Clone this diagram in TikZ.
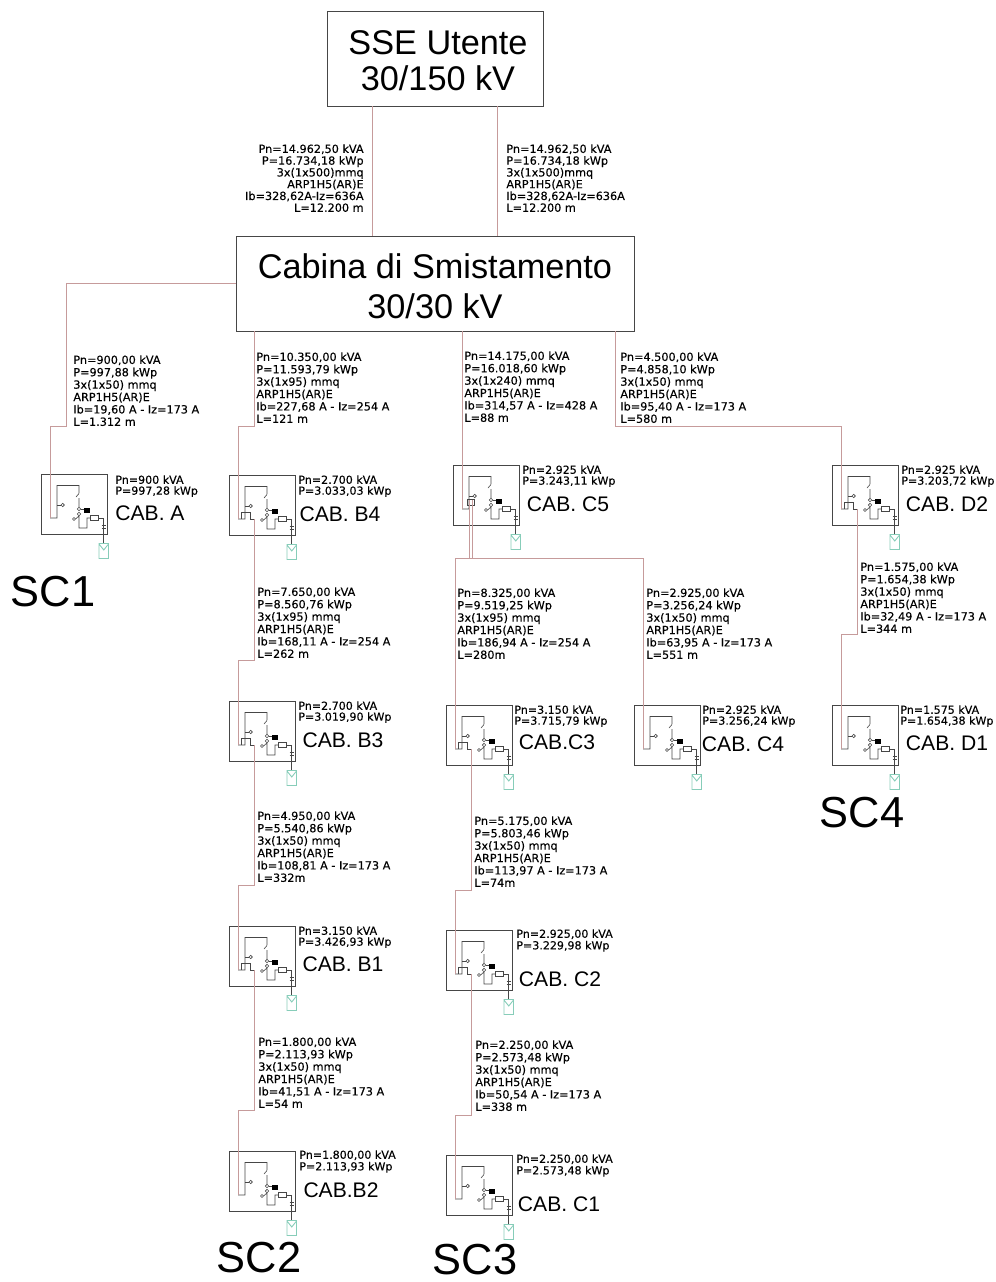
\documentclass[tikz,border=0pt]{standalone}
\usepackage{fontspec}
\setmainfont{Liberation Sans}
\newfontfamily\datafont[RawFeature={embolden=0.25}]{DejaVu Sans}
\usetikzlibrary{calc}
\definecolor{cable}{RGB}{198,155,155}
\definecolor{wire}{RGB}{70,70,70}
\definecolor{panel}{RGB}{135,205,185}
\tikzset{
  station/.style={draw=wire,line width=0.5pt,inner sep=0pt,outer sep=0pt},
  stationtext/.style={inner sep=0pt,align=center,font=\fontsize{19.5}{20.4}\selectfont},
  cable/.style={draw=cable,line width=0.5pt},
  feeder/.style={inner sep=0pt,anchor=north west,align=left,font=\datafont\fontsize{6.4}{7.05}\selectfont},
  feederR/.style={inner sep=0pt,anchor=north east,align=right,font=\datafont\fontsize{6.4}{6.7}\selectfont},
  rating/.style={inner sep=0pt,anchor=north west,align=left,font=\datafont\fontsize{6.3}{6.2}\selectfont},
  cabname/.style={inner sep=0pt,font=\fontsize{12}{14}\selectfont},
  sector/.style={inner sep=0pt,font=\fontsize{24.7}{26}\selectfont},
  cabin/.pic={
    %% Enclosure
    \node[draw=wire,line width=0.4pt,minimum width=1.32cm,minimum height=1.2cm,inner sep=0pt,outer sep=0pt,anchor=north west] (box) at (0,0) {};
    \coordinate (in) at (9,44);
    \coordinate (out) at (25,44);
    %% Switchgear
    \draw[wire,line width=0.35pt] (in) -- (16,44) -- (16,11.5) -- (38,11.5) -- (38,19) (35,23) -- (38,19.5) (38,24) -- (38,33);
    \draw[wire,line width=0.35pt] (16,31) -- (20,31);
    \draw[wire,line width=0.35pt] (21.7,31) circle (1.7);
    \draw[wire,line width=0.35pt] (38,35) circle (1.7) (38,40) circle (1.7) (33,45) circle (1.5);
    \draw[wire,line width=0.35pt] (40,35.5) -- (43,35.5) (34.5,45) -- (38,42) -- (38,54) -- (46,54) -- (46,44) -- (49,44);
    \fill[black] (43,33.5) rectangle (49,38.5);
    \draw[wire,line width=0.45pt] (49,41.5) rectangle (57,46.5);
    %% Panel
    \draw[wire,line width=0.35pt] (57,44) -- (62.5,44) -- (62.5,69);
    \draw[wire,line width=0.35pt] (60.5,51) -- (64.5,51) (60.5,54) -- (64.5,54);
    \draw[panel,line width=0.5pt] (58,69.5) rectangle (67.5,84.5) (58,70) -- (62.75,76) -- (67.5,70);
  },
  cabinthru/.pic={
    \pic {cabin};
    \draw[wire,line width=0.35pt] (12,44) -- (12,37) -- (21,37) -- (21,44) -- (out);
  }
}
\begin{document}
\begin{tikzpicture}[x=0.02cm,y=-0.02cm]
    \useasboundingbox (0,0) rectangle (995,1282);
    %% Stations
    \node[station,minimum width=4.32cm,minimum height=1.9cm] (sse) at (435,58.5) {};
    \node[station,minimum width=7.96cm,minimum height=1.9cm] (smist) at (435,283.5) {};
    \node[stationtext] (sseT) at (438,61) {SSE Utente\\30/150 kV};
    \node[stationtext,font=\fontsize{19.5}{22.7}\selectfont] (smistT) at (435,286) {Cabina di Smistamento\\30/30 kV};
    %% Cabins
    \pic (A) at (41,474) {cabin};
    \pic (Bfour) at (229,475) {cabinthru};
    \pic (Bthree) at (229,701) {cabinthru};
    \pic (Bone) at (229,926) {cabinthru};
    \pic (Btwo) at (229,1151) {cabin};
    \pic (Cfive) at (453,465) {cabin};
    \pic (Cthree) at (446,705) {cabinthru};
    \pic (Ctwo) at (446,930) {cabinthru};
    \pic (Cone) at (446,1155) {cabin};
    \pic (Cfour) at (634,705) {cabin};
    \pic (Dtwo) at (832,465) {cabinthru};
    \pic (Done) at (832,705) {cabin};
    %% Cables
    \coordinate (tapL) at (372,236);
    \coordinate (tapR) at (497,236);
    \coordinate (tapB) at (254,331);
    \coordinate (tapC) at (462,331);
    \coordinate (tapD) at (615,331);
    \draw[cable] (sse.south -| tapL) -- (tapL);
    \draw[cable] (sse.south -| tapR) -- (tapR);
    \draw[cable] (smist.west) -| (66,426) -| (Ain);
    \draw[cable] (tapB) -- (254,426) -| (Bfourin);
    \draw[cable] (Bfourout) -- ++(0,141) -| (Bthreein);
    \draw[cable] (Bthreeout) -- ++(0,140) -| (Bonein);
    \draw[cable] (Boneout) -- ++(0,140) -| (Btwoin);
    \draw[cable] (tapC) -- (Cfivein);
    \draw[cable] (tapD) -- (615,426) -| (Dtwoin);
    \draw[cable] (Dtwoout) -- ++(0,125) -| (Donein);
    %% Branch under C5
    \coordinate (tapE) at (469,500);
    \coordinate (tapF) at (472,500);
    \coordinate (busC) at (470.5,558);
    \draw[wire,line width=0.35pt] (467,499) rectangle (474,505);
    \draw[cable] (tapE) -- (tapE |- busC);
    \draw[cable] (tapF) -- (tapF |- busC);
    \draw[cable] (busC) -| (Cthreein);
    \draw[cable] (busC) -| (Cfourin);
    \draw[cable] (Cthreeout) -- ++(0,141) -| (Ctwoin);
    \draw[cable] (Ctwoout) -- ++(0,141) -| (Conein);
    %% Cable data
    \node[feederR] (datL) at (364,144) {Pn=14.962,50 kVA\\P=16.734,18 kWp\\3x(1x500)mmq\\ARP1H5(AR)E\\Ib=328,62A-Iz=636A\\L=12.200 m};
    \node[feeder,font=\datafont\fontsize{6.4}{6.7}\selectfont] (datR) at (506,144) {Pn=14.962,50 kVA\\P=16.734,18 kWp\\3x(1x500)mmq\\ARP1H5(AR)E\\Ib=328,62A-Iz=636A\\L=12.200 m};
    \node[feeder] (datA) at (73,355) {Pn=900,00 kVA\\P=997,88 kWp\\3x(1x50) mmq\\ARP1H5(AR)E\\Ib=19,60 A - Iz=173 A\\L=1.312 m};
    \node[feeder] (datB) at (256,352) {Pn=10.350,00 kVA\\P=11.593,79 kWp\\3x(1x95) mmq\\ARP1H5(AR)E\\Ib=227,68 A - Iz=254 A\\L=121 m};
    \node[feeder] (datC) at (464,351) {Pn=14.175,00 kVA\\P=16.018,60 kWp\\3x(1x240) mmq\\ARP1H5(AR)E\\Ib=314,57 A - Iz=428 A\\L=88 m};
    \node[feeder] (datD) at (620,352) {Pn=4.500,00 kVA\\P=4.858,10 kWp\\3x(1x50) mmq\\ARP1H5(AR)E\\Ib=95,40 A - Iz=173 A\\L=580 m};
    \node[feeder] (datBthree) at (257,587) {Pn=7.650,00 kVA\\P=8.560,76 kWp\\3x(1x95) mmq\\ARP1H5(AR)E\\Ib=168,11 A - Iz=254 A\\L=262 m};
    \node[feeder] (datBone) at (257,811) {Pn=4.950,00 kVA\\P=5.540,86 kWp\\3x(1x50) mmq\\ARP1H5(AR)E\\Ib=108,81 A - Iz=173 A\\L=332m};
    \node[feeder] (datBtwo) at (258,1037) {Pn=1.800,00 kVA\\P=2.113,93 kWp\\3x(1x50) mmq\\ARP1H5(AR)E\\Ib=41,51 A - Iz=173 A\\L=54 m};
    \node[feeder] (datCthree) at (457,588) {Pn=8.325,00 kVA\\P=9.519,25 kWp\\3x(1x95) mmq\\ARP1H5(AR)E\\Ib=186,94 A - Iz=254 A\\L=280m};
    \node[feeder] (datCfour) at (646,588) {Pn=2.925,00 kVA\\P=3.256,24 kWp\\3x(1x50) mmq\\ARP1H5(AR)E\\Ib=63,95 A - Iz=173 A\\L=551 m};
    \node[feeder] (datCtwo) at (474,816) {Pn=5.175,00 kVA\\P=5.803,46 kWp\\3x(1x50) mmq\\ARP1H5(AR)E\\Ib=113,97 A - Iz=173 A\\L=74m};
    \node[feeder] (datCone) at (475,1040) {Pn=2.250,00 kVA\\P=2.573,48 kWp\\3x(1x50) mmq\\ARP1H5(AR)E\\Ib=50,54 A - Iz=173 A\\L=338 m};
    \node[feeder] (datDone) at (860,562) {Pn=1.575,00 kVA\\P=1.654,38 kWp\\3x(1x50) mmq\\ARP1H5(AR)E\\Ib=32,49 A - Iz=173 A\\L=344 m};
    %% Cabin ratings
    \node[rating] (ratA) at (115,475) {Pn=900 kVA\\P=997,28 kWp};
    \node[rating] (ratBfour) at (298,475) {Pn=2.700 kVA\\P=3.033,03 kWp};
    \node[rating] (ratBthree) at (298,701) {Pn=2.700 kVA\\P=3.019,90 kWp};
    \node[rating] (ratBone) at (298,926) {Pn=3.150 kVA\\P=3.426,93 kWp};
    \node[rating,font=\datafont\fontsize{6.3}{6.6}\selectfont] (ratBtwo) at (299,1150) {Pn=1.800,00 kVA\\P=2.113,93 kWp};
    \node[rating] (ratCfive) at (522,465) {Pn=2.925 kVA\\P=3.243,11 kWp};
    \node[rating] (ratCthree) at (514,705) {Pn=3.150 kVA\\P=3.715,79 kWp};
    \node[rating] (ratCfour) at (702,705) {Pn=2.925 kVA\\P=3.256,24 kWp};
    \node[rating,font=\datafont\fontsize{6.3}{6.6}\selectfont] (ratCtwo) at (516,929) {Pn=2.925,00 kVA\\P=3.229,98 kWp};
    \node[rating,font=\datafont\fontsize{6.3}{6.6}\selectfont] (ratCone) at (516,1154) {Pn=2.250,00 kVA\\P=2.573,48 kWp};
    \node[rating] (ratDtwo) at (901,465) {Pn=2.925 kVA\\P=3.203,72 kWp};
    \node[rating] (ratDone) at (900,705) {Pn=1.575 kVA\\P=1.654,38 kWp};
    %% Cabin names
    \node[cabname] (namA) at (150,513) {CAB. A};
    \node[cabname] (namBfour) at (340,514) {CAB. B4};
    \node[cabname] (namBthree) at (343,740) {CAB. B3};
    \node[cabname] (namBone) at (343,964) {CAB. B1};
    \node[cabname] (namBtwo) at (341,1190) {CAB.B2};
    \node[cabname] (namCfive) at (568,504) {CAB. C5};
    \node[cabname] (namCthree) at (557,742) {CAB.C3};
    \node[cabname] (namCfour) at (743,744) {CAB. C4};
    \node[cabname] (namCtwo) at (560,979) {CAB. C2};
    \node[cabname] (namCone) at (559,1204) {CAB. C1};
    \node[cabname] (namDtwo) at (947,504) {CAB. D2};
    \node[cabname] (namDone) at (947,743) {CAB. D1};
    %% Sectors
    \node[sector] (secA) at (53,592) {SC1};
    \node[sector] (secB) at (259,1258) {SC2};
    \node[sector] (secC) at (475,1260) {SC3};
    \node[sector] (secD) at (862,813) {SC4};
\end{tikzpicture}
\end{document}
